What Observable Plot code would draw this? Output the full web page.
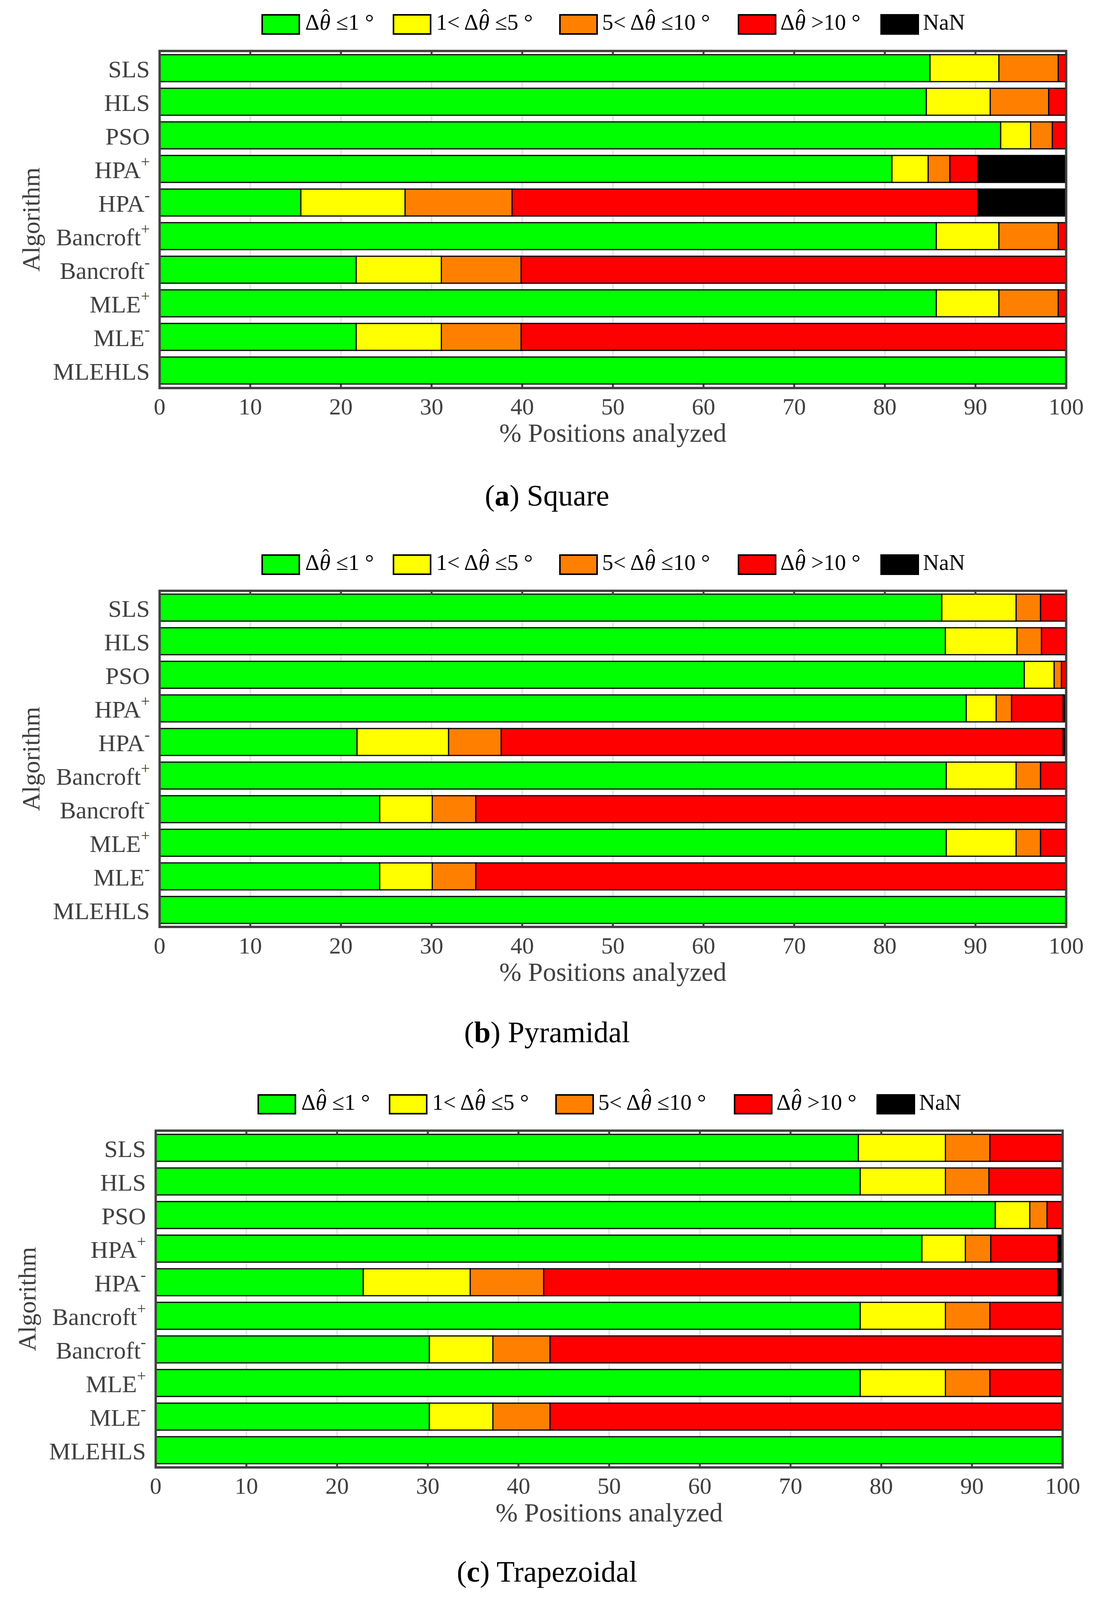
<!DOCTYPE html>
<html><head><meta charset="utf-8">
<script src="https://cdn.jsdelivr.net/npm/d3@7"></script>
<script src="https://cdn.jsdelivr.net/npm/@observablehq/plot@0.6"></script>
<style>
html,body{margin:0;padding:0;background:#fff;}
#page{position:relative;width:2810px;height:4096px;font-family:"Liberation Serif","Times New Roman",serif;overflow:hidden;}
.sw{position:absolute;width:99px;box-sizing:border-box;border:4px solid #000;}
.lt{position:absolute;font-size:57px;color:#000;white-space:nowrap;}
.th{position:relative;display:inline-block;font-style:italic;}
.th::after{content:"ˆ";position:absolute;left:0.14em;top:-0.30em;font-style:normal;font-size:0.9em;}
.cap{position:absolute;left:0;width:2800px;text-align:center;font-size:76px;line-height:76px;color:#000;}
</style></head><body><div id="page"></div>
<script>
// ---- categories / labels ----
const algorithms = ["SLS","HLS","PSO","HPA+","HPA-","Bancroft+","Bancroft-","MLE+","MLE-","MLEHLS"];
const classes = ["le1","le5","le10","gt10","nan"];
const classColors = ["#00ff00","#ffff00","#ff8000","#ff0000","#000000"];
const TH = 'Δ<span class="th">θ</span>';
const legendLabels = [TH + " ≤1 °", "1&lt; " + TH + " ≤5 °", "5&lt; " + TH + " ≤10 °", TH + " &gt;10 °", "NaN"];
const xTicks = [0,10,20,30,40,50,60,70,80,90,100];
const xLabel = "% Positions analyzed";
const yLabel = "Algorithm";

// ---- (a) Square: % of positions per error class ----
const squareLe1  = [85.0, 84.6, 92.8, 80.8, 15.6, 85.7, 21.7, 85.7, 21.7, 100];
const squareLe5  = [7.6, 7.05, 3.3, 4.0, 11.5, 6.9, 9.4, 6.9, 9.4, 0];
const squareLe10 = [6.55, 6.45, 2.4, 2.4, 11.8, 6.55, 8.8, 6.55, 8.8, 0];
const squareGt10 = [0.85, 1.9, 1.5, 3.1, 51.4, 0.85, 60.1, 0.85, 60.1, 0];
const squareNaN  = [0, 0, 0, 9.7, 9.7, 0, 0, 0, 0, 0];

// ---- (b) Pyramidal ----
const pyrLe1  = [86.3, 86.7, 95.4, 89.0, 21.8, 86.8, 24.3, 86.8, 24.3, 100];
const pyrLe5  = [8.2, 7.9, 3.3, 3.3, 10.1, 7.7, 5.8, 7.7, 5.8, 0];
const pyrLe10 = [2.7, 2.7, 0.8, 1.7, 5.8, 2.7, 4.8, 2.7, 4.8, 0];
const pyrGt10 = [2.8, 2.7, 0.5, 5.7, 62.0, 2.8, 65.1, 2.8, 65.1, 0];
const pyrNaN  = [0, 0, 0, 0.3, 0.3, 0, 0, 0, 0, 0];

// ---- (c) Trapezoidal ----
const trapLe1  = [77.5, 77.7, 92.6, 84.5, 22.9, 77.7, 30.2, 77.7, 30.2, 100];
const trapLe5  = [9.6, 9.4, 3.8, 4.8, 11.8, 9.4, 7.0, 9.4, 7.0, 0];
const trapLe10 = [4.9, 4.8, 1.9, 2.8, 8.1, 4.9, 6.3, 4.9, 6.3, 0];
const trapGt10 = [8.0, 8.1, 1.7, 7.4, 56.7, 8.0, 56.5, 8.0, 56.5, 0];
const trapNaN  = [0, 0, 0, 0.5, 0.5, 0, 0, 0, 0, 0];

const captions = [["a","Square"],["b","Pyramidal"],["c","Trapezoidal"]];

// ---- layout (not data): vertical positions fitted to the 4096px-high viewport ----
const S = 4096 / 4882;
const layouts = [
  {series:[squareLe1,squareLe5,squareLe10,squareGt10,squareNaN], frameTop:154.5*S, frameH:1028.5*S, mL:408, mR:82, legendTop:43*S, shift:0, capBase:1542*S},
  {series:[pyrLe1,pyrLe5,pyrLe10,pyrGt10,pyrNaN], frameTop:1802.5*S, frameH:1025.5*S, mL:408, mR:82, legendTop:1691*S, shift:0, capBase:3179*S},
  {series:[trapLe1,trapLe5,trapLe10,trapGt10,trapNaN], frameTop:3449*S, frameH:1027.5*S, mL:398, mR:91, legendTop:3338*S, shift:-10, capBase:4825*S}
];
const swLeft = [669,1005,1431,1888,2253];
const txLeft = [781,1116,1541,1997,2362];
const swH = 63 * S;

const page = document.getElementById("page");
const ns = "http://www.w3.org/2000/svg";

layouts.forEach((L, p) => {
  // legend
  classes.forEach((c, k) => {
    const s = document.createElement("div");
    s.className = "sw";
    s.style.left = (swLeft[k] + L.shift) + "px";
    s.style.top = L.legendTop + "px";
    s.style.height = swH + "px";
    s.style.background = classColors[k];
    page.appendChild(s);
    const t = document.createElement("div");
    t.className = "lt";
    t.style.left = (txLeft[k] + L.shift) + "px";
    t.style.top = (L.legendTop - 5) + "px";
    t.style.height = swH + "px";
    t.style.lineHeight = swH + "px";
    t.innerHTML = legendLabels[k];
    page.appendChild(t);
  });

  // stacked rows
  const rows = [];
  algorithms.forEach((a, i) => classes.forEach((c, k) => {
    const v = L.series[k][i];
    if (v > 0) rows.push({alg: a, cls: c, value: v});
  }));

  const mt = 34, mb = 190;
  const svg = Plot.plot({
    width: 2810,
    height: mt + L.frameH + mb,
    marginTop: mt, marginBottom: mb, marginLeft: L.mL, marginRight: L.mR,
    style: {fontFamily: "Liberation Serif, Times New Roman, serif", color: "#404040", background: "transparent", overflow: "visible"},
    x: {domain: [0, 100]},
    y: {domain: algorithms, paddingInner: 0.2, paddingOuter: 0.1},
    color: {domain: classes, range: classColors},
    marks: [
      Plot.ruleX(xTicks, {stroke: "#e3e3e3", strokeWidth: 4}),
      Plot.barX(rows, {x: "value", y: "alg", fill: "cls", stroke: "#000", strokeWidth: 3}),
      Plot.frame({stroke: "#404040", strokeWidth: 6}),
      Plot.axisX(xTicks, {anchor: "top", tickSize: 9, dy: 9, tickFormat: () => "", label: null, stroke: "#404040", strokeWidth: 5}),
      Plot.axisX(xTicks, {anchor: "bottom", tickSize: 9, dy: -9, tickFormat: () => "", label: null, stroke: "#404040", strokeWidth: 5}),
      Plot.axisX(xTicks, {anchor: "bottom", tickSize: 0, tickPadding: 25, fontSize: 60, fill: "#404040", label: null}),
      Plot.axisY({anchor: "left", tickSize: 0, tickPadding: 25, fontSize: 62, fill: "#404040", label: null, dy: 3}),
      Plot.text([xLabel], {text: d => d, frameAnchor: "bottom", lineAnchor: "bottom", dy: 138, fontSize: 68, fill: "#404040"}),
      Plot.text([yLabel], {text: d => d, frameAnchor: "left", textAnchor: "middle", lineAnchor: "bottom", rotate: -90, dx: -308, fontSize: 64, fill: "#404040"})
    ]
  });
  svg.style.position = "absolute";
  svg.style.top = (L.frameTop - mt) + "px";
  svg.style.left = "0px";

  // superscript + / - on algorithm variants
  svg.querySelectorAll("text").forEach(t => {
    const s = t.textContent;
    if (algorithms.includes(s) && /[+-]$/.test(s)) {
      t.textContent = "";
      const a = document.createElementNS(ns, "tspan");
      a.textContent = s.slice(0, -1);
      const b = document.createElementNS(ns, "tspan");
      b.textContent = s.slice(-1);
      b.setAttribute("font-size", "41");
      b.setAttribute("dy", "-29");
      t.appendChild(a); t.appendChild(b);
    }
  });
  page.appendChild(svg);

  // caption
  const cap = document.createElement("div");
  cap.className = "cap";
  cap.style.top = (L.capBase - 0.8375 * 76) + "px";
  cap.innerHTML = "(<b>" + captions[p][0] + "</b>) " + captions[p][1];
  page.appendChild(cap);
});
</script></body></html>
